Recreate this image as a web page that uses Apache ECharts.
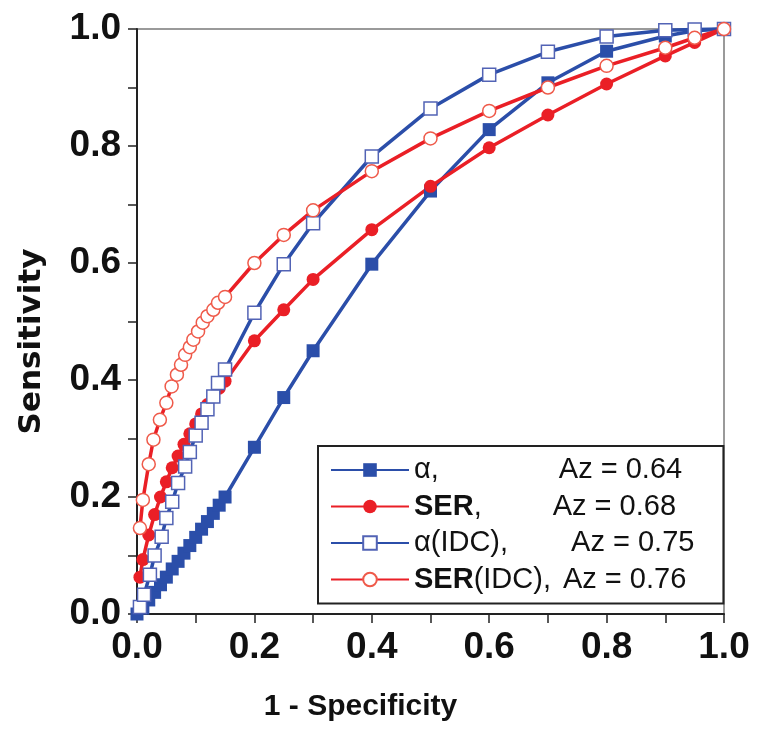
<!DOCTYPE html>
<html lang="en">
<head>
    <meta charset="UTF-8">
    <title>ROC</title>
    <style>
        *{
            margin: 0;
            padding: 0;
        }
        .main{
            width: 762px;
            height: 739px;
            background: #fff;
        }
    </style>
    <script src="https://cdn.jsdelivr.net/npm/echarts@6/dist/echarts.min.js"></script>
</head>
<body>
<div class="main"></div>
<script>
    // data
    let alphaX = [0,0.01,0.02,0.03,0.04,0.05,0.06,0.07,0.08,0.09,0.10,0.11,0.12,0.13,0.14,0.15,0.2,0.25,0.3,0.4,0.5,0.6,0.7,0.8,0.9,0.95,1.0];
    let alphaY = [0,0.01,0.024,0.037,0.05,0.063,0.077,0.09,0.104,0.117,0.131,0.145,0.158,0.172,0.186,0.2,0.285,0.37,0.45,0.598,0.723,0.828,0.908,0.962,0.988,0.997,1.0];

    let serX = [0.005,0.01,0.02,0.03,0.04,0.05,0.06,0.07,0.08,0.09,0.10,0.11,0.12,0.13,0.14,0.15,0.2,0.25,0.3,0.4,0.5,0.6,0.7,0.8,0.9,0.95,1.0];
    let serY = [0.063,0.093,0.135,0.17,0.2,0.226,0.25,0.27,0.29,0.308,0.325,0.342,0.358,0.372,0.386,0.398,0.467,0.52,0.572,0.657,0.731,0.797,0.853,0.906,0.954,0.977,1.0];

    let alphaIdcX = [0.005,0.012,0.022,0.03,0.042,0.05,0.06,0.07,0.082,0.09,0.10,0.11,0.12,0.13,0.138,0.15,0.2,0.25,0.3,0.4,0.5,0.6,0.7,0.8,0.9,0.95,1.0];
    let alphaIdcY = [0.012,0.033,0.067,0.1,0.132,0.164,0.192,0.224,0.252,0.277,0.305,0.327,0.35,0.372,0.395,0.418,0.515,0.598,0.668,0.782,0.864,0.922,0.961,0.987,0.998,0.999,1.0];

    let serIdcX = [0.005,0.01,0.02,0.028,0.039,0.05,0.059,0.068,0.075,0.082,0.09,0.096,0.104,0.112,0.12,0.13,0.138,0.15,0.2,0.25,0.3,0.4,0.5,0.6,0.7,0.8,0.9,0.95,1.0];
    let serIdcY = [0.147,0.195,0.256,0.298,0.332,0.361,0.389,0.409,0.426,0.443,0.456,0.469,0.483,0.498,0.509,0.52,0.532,0.542,0.6,0.648,0.69,0.757,0.813,0.86,0.9,0.937,0.968,0.985,1.0];

    let seriesNames = ['α', 'SER', 'α(IDC)', 'SER(IDC)'];
    let azValues = ['0.64', '0.68', '0.75', '0.76'];

    let blue = '#2b4ea9';
    let red = '#ea1f26';
    let font = 'Liberation Sans, Arial, sans-serif';

    let main = document.querySelector('.main');
    let chart = echarts.init(main);

    function pairs(xs, ys){
        return xs.map((x, i) => [x, ys[i]]);
    }

    // spacing between name and "Az" in each legend row
    let legendGap = [120, 71, 63, 12];
    let rich = {
        b: {fontWeight: 'bold', fontSize: 29, fontFamily: font, color: '#111'},
        n: {fontSize: 29, fontFamily: font, color: '#111'}
    };
    legendGap.forEach((g, i) => {
        rich['g' + i] = {width: g, fontSize: 29};
    });

    function legendText(name){
        let i = seriesNames.indexOf(name);
        let head;
        if (name == 'α') head = '{n|α,}';
        else if (name == 'SER') head = '{b|SER}{n|,}';
        else if (name == 'α(IDC)') head = '{n|α(IDC),}';
        else head = '{b|SER}{n|(IDC),}';
        return head + '{g' + i + '| }{n|Az = ' + azValues[i] + '}';
    }

    function makeSeries(name, xs, ys, symbol, color, fill, border){
        return {
            name: name,
            type: 'line',
            data: pairs(xs, ys),
            symbol: symbol,
            symbolSize: 13,
            clip: false,
            lineStyle: {color: color, width: 3.5},
            itemStyle: {color: fill, borderColor: border, borderWidth: fill == '#fff' ? 1.5 : 0},
            emphasis: {disabled: true},
            animation: false
        };
    }

    let series = [
        makeSeries('α', alphaX, alphaY, 'rect', blue, blue, blue),
        makeSeries('SER', serX, serY, 'circle', red, red, red),
        makeSeries('α(IDC)', alphaIdcX, alphaIdcY, 'rect', blue, '#fff', '#5263b5'),
        makeSeries('SER(IDC)', serIdcX, serIdcY, 'circle', red, '#fff', '#ef5a4a')
    ];

    let option = {
        animation: false,
        grid: {
            left: 137,
            right: 38,
            top: 29,
            bottom: 125,
            show: true,
            borderColor: '#7a7a7a',
            borderWidth: 1.5
        },
        legend: {
            orient: 'vertical',
            left: 318,
            top: 446,
            padding: [9, 29, 9, 12],
            itemWidth: 78,
            itemHeight: 17,
            itemGap: 6.5,
            borderColor: '#222',
            borderWidth: 2,
            backgroundColor: '#fff',
            data: seriesNames,
            selectedMode: false,
            formatter: legendText,
            textStyle: {
                fontSize: 29,
                lineHeight: 30,
                fontFamily: font,
                color: '#111',
                rich: rich
            }
        },
        xAxis: {
            type: 'value',
            min: 0,
            max: 1,
            interval: 0.2,
            name: '1 - Specificity',
            nameLocation: 'middle',
            nameGap: 78,
            nameTextStyle: {
                fontSize: 30,
                fontWeight: 'bold',
                fontFamily: font,
                color: '#111',
                padding: [0, 140, 0, 0]
            },
            axisLine: {lineStyle: {color: '#222', width: 2}},
            axisTick: {length: 9, lineStyle: {color: '#222', width: 1.5}},
            minorTick: {show: true, splitNumber: 2, length: 9, lineStyle: {color: '#222', width: 1.5}},
            splitLine: {show: false},
            axisLabel: {
                margin: 15,
                fontSize: 37,
                fontWeight: 'bold',
                fontFamily: font,
                color: '#111',
                formatter: v => v.toFixed(1)
            }
        },
        yAxis: {
            type: 'value',
            min: 0,
            max: 1,
            interval: 0.2,
            name: 'Sensitivity',
            nameLocation: 'middle',
            nameGap: 90,
            nameTextStyle: {
                fontSize: 31,
                fontWeight: 'bold',
                fontFamily: 'DejaVu Sans, sans-serif',
                color: '#111',
                padding: [0, 40, 0, 0]
            },
            axisLine: {lineStyle: {color: '#222', width: 2}},
            axisTick: {length: 9, lineStyle: {color: '#222', width: 1.5}},
            minorTick: {show: true, splitNumber: 2, length: 9, lineStyle: {color: '#222', width: 1.5}},
            splitLine: {show: false},
            axisLabel: {
                margin: 16,
                fontSize: 37,
                fontWeight: 'bold',
                fontFamily: font,
                color: '#111',
                formatter: v => v.toFixed(1)
            }
        },
        series: series
    };
    chart.setOption(option);
</script>
</body>
</html>
